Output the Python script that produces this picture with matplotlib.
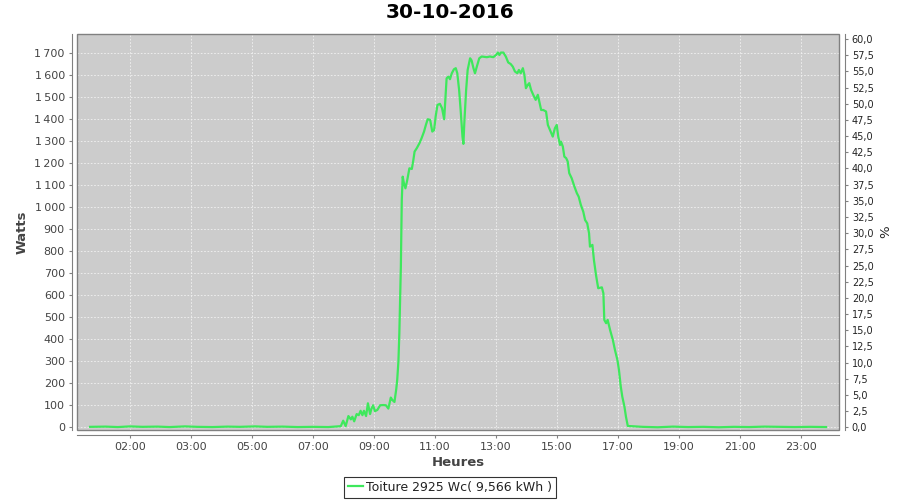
import matplotlib
matplotlib.use("Agg")
import matplotlib.pyplot as plt
from matplotlib.patches import Rectangle
from matplotlib.ticker import FuncFormatter

# hours elapsed since 00:00 (30-10-2016 has 25 h: DST change at 03:00)
hours = [0.69, 1.2, 1.6, 2.0, 2.4, 2.9, 3.3, 3.8, 4.2, 4.7, 5.2, 5.6, 6.1,
         6.5, 7.0, 7.5, 8.0, 8.5, 8.91, 8.99, 9.07, 9.16, 9.24, 9.29, 9.35,
         9.43, 9.50, 9.56, 9.62, 9.67, 9.74, 9.80, 9.87, 9.91, 9.97, 10.03,
         10.11, 10.20, 10.30, 10.39, 10.47, 10.55, 10.60, 10.67, 10.73,
         10.76, 10.80, 10.83, 10.88, 10.91, 10.94, 10.98, 11.03, 11.09,
         11.16, 11.24, 11.29, 11.33, 11.40, 11.49, 11.56, 11.64, 11.70,
         11.76, 11.84, 11.91, 11.97, 12.02, 12.08, 12.16, 12.23, 12.30,
         12.38, 12.44, 12.49, 12.55, 12.62, 12.68, 12.73, 12.79, 12.84,
         12.90, 12.93, 12.96, 13.02, 13.07, 13.15, 13.20, 13.26, 13.31,
         13.37, 13.45, 13.53, 13.70, 13.80, 13.91, 14.00, 14.06, 14.11,
         14.16, 14.24, 14.32, 14.40, 14.48, 14.55, 14.62, 14.70, 14.75,
         14.81, 14.88, 14.93, 14.98, 15.04, 15.09, 15.15, 15.22, 15.30,
         15.37, 15.42, 15.48, 15.55, 15.64, 15.70, 15.79, 15.86, 15.93,
         15.99, 16.04, 16.10, 16.13, 16.19, 16.24, 16.30, 16.35, 16.40,
         16.48, 16.57, 16.65, 16.71, 16.78, 16.86, 16.92, 16.99, 17.05,
         17.08, 17.16, 17.21, 17.28, 17.35, 17.47, 17.52, 17.55, 17.61,
         17.66, 17.74, 17.83, 17.90, 17.98, 18.03, 18.09, 18.14, 18.21,
         18.26, 18.32, 18.8, 19.3, 19.8, 20.3, 20.8, 21.3, 21.8, 22.3,
         22.8, 23.3, 23.8, 24.3, 24.82]
watts = [2, 3, 1, 4, 2, 3, 1, 4, 2, 1, 3, 2, 4,
         2, 3, 1, 2, 1, 5, 30, 5, 51, 36, 48, 27,
         60, 55, 75, 55, 75, 51, 109, 60, 82, 100, 73,
         79, 100, 101, 100, 85, 135, 124, 115, 175,
         215, 300, 427, 730, 1033, 1139, 1109, 1086, 1124,
         1177, 1174, 1215, 1253, 1268, 1291, 1314, 1344, 1374,
         1400, 1397, 1344, 1351, 1412, 1465, 1470, 1450, 1400,
         1586, 1594, 1582, 1609, 1627, 1632, 1609, 1533, 1442,
         1321, 1288, 1382, 1533, 1624, 1677, 1667, 1632, 1609,
         1639, 1677, 1685, 1682, 1685, 1682, 1692, 1703, 1692,
         1703, 1703, 1685, 1658, 1651, 1639, 1617, 1609, 1624,
         1609, 1632, 1602, 1541, 1556, 1564, 1533, 1511, 1488,
         1511, 1480, 1442, 1442, 1435, 1374, 1344, 1321, 1359,
         1374, 1321, 1283, 1298, 1276, 1230, 1223, 1208, 1155,
         1132, 1094, 1064, 1048, 1011, 980, 942, 927, 882,
         821, 829, 760, 690, 632, 636, 609, 488, 473,
         488, 442, 397, 351, 306, 261, 185, 139, 94,
         48, 6, 2, 0, 3, 1, 2, 0, 2, 1,
         3, 2, 1, 2, 1]

tick_hours = [2, 4, 6, 8, 10, 12, 14, 16, 18, 20, 22, 24]
tick_labels = ["02:00", "03:00", "05:00", "07:00", "09:00", "11:00",
               "13:00", "15:00", "17:00", "19:00", "21:00", "23:00"]
legend_label = "Toiture 2925 Wc( 9,566 kWh )"

fig = plt.figure(figsize=(9, 5), dpi=100)
ax = fig.add_axes([0.0859, 0.1406, 0.8467, 0.7908])
ax.set_facecolor("#cccccc")

line, = ax.plot(hours, watts, color="#3ee85c", lw=1.6, label=legend_label)

ax.set_xlim(0.272, 25.256)
ax.set_ylim(-11, 1786)
ax.set_xticks(tick_hours)
ax.set_xticklabels(tick_labels)
ax.set_yticks(range(0, 1701, 100))
ax.yaxis.set_major_formatter(
    FuncFormatter(lambda v, p: f"{v:,.0f}".replace(",", "\u2009")))
ax.grid(True, color="#f2f2f2", lw=0.6, linestyle=(0, (2, 2)))

# plot outline, axis lines drawn a little outside (JFreeChart look)
ax.add_patch(Rectangle((0, 0), 1, 1, transform=ax.transAxes, fill=False,
                       edgecolor="#808080", lw=1, clip_on=False, zorder=5))
for side in ["left", "bottom"]:
    ax.spines[side].set_position(("outward", 4))
    ax.spines[side].set_color("#808080")
ax.spines["top"].set_visible(False)
ax.spines["right"].set_visible(False)
ax.tick_params(axis="both", length=2, width=0.8, color="#808080",
               labelsize=8, labelcolor="#444444", pad=3)

ax.set_xlabel("Heures", fontsize=9.5, fontweight="bold", color="#444444",
              labelpad=3)
ax.set_ylabel("Watts", fontsize=9.5, fontweight="bold", color="#444444",
              labelpad=4)

# right axis in percent
ax2 = ax.twinx()
ax2.set_ylim(-0.37, 60.73)
ax2.set_yticks([i * 2.5 for i in range(25)])
ax2.yaxis.set_major_formatter(
    FuncFormatter(lambda v, p: f"{v:.1f}".replace(".", ",")))
ax2.spines["right"].set_position(("outward", 4))
ax2.spines["right"].set_color("#808080")
for side in ["left", "top", "bottom"]:
    ax2.spines[side].set_visible(False)
ax2.tick_params(axis="y", length=2, width=0.8, color="#808080",
                labelsize=7, labelcolor="#222222", pad=3)
ax2.set_ylabel("%", fontsize=9.5, color="#222222", labelpad=4)

fig.text(0.5, 0.974, "30-10-2016", ha="center", va="center",
         fontsize=14.5, fontweight="bold")

leg = fig.legend(handles=[line], loc="lower center",
                 bbox_to_anchor=(0.5, 0.005), fontsize=9, frameon=True,
                 fancybox=False, edgecolor="black", handlelength=1.2,
                 handletextpad=0.3, borderpad=0.3, borderaxespad=0)
leg.get_frame().set_linewidth(0.8)
for t in leg.get_texts():
    t.set_color("#222222")

fig.savefig("out.png", dpi=100)
